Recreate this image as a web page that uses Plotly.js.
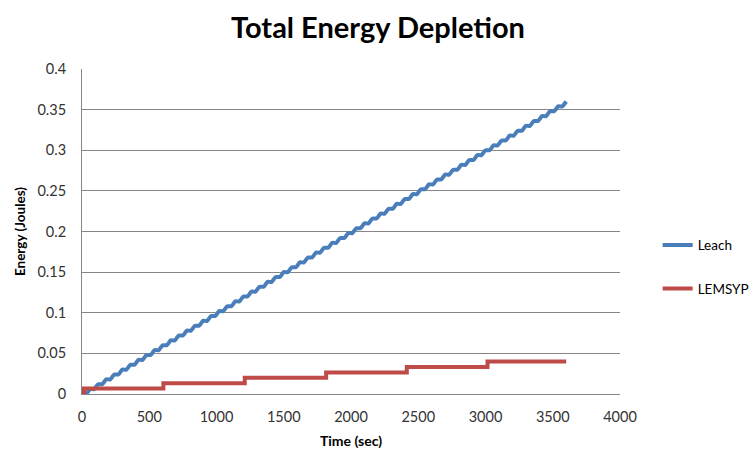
<!DOCTYPE html>
<html>
<head>
<meta charset="utf-8">
<script src="https://cdn.plot.ly/plotly-3.0.1.min.js"></script>
<style>
  html, body { margin: 0; padding: 0; background: #ffffff; }
  #chart { width: 756px; height: 451px; }
</style>
</head>
<body>
<div id="chart"></div>
<script>
// Leach: cumulative energy at the end of each 60 s round
const leachTime = [0, 60, 120, 180, 240, 300, 360, 420, 480, 540, 600, 660, 720, 780, 840, 900,
  960, 1020, 1080, 1140, 1200, 1260, 1320, 1380, 1440, 1500, 1560, 1620, 1680, 1740, 1800,
  1860, 1920, 1980, 2040, 2100, 2160, 2220, 2280, 2340, 2400, 2460, 2520, 2580, 2640, 2700,
  2760, 2820, 2880, 2940, 3000, 3060, 3120, 3180, 3240, 3300, 3360, 3420, 3480, 3540, 3600];
const leachEnergy = [0, 0.006, 0.012, 0.018, 0.024, 0.030, 0.036, 0.042, 0.048, 0.054, 0.060,
  0.066, 0.072, 0.078, 0.084, 0.090, 0.096, 0.102, 0.108, 0.114, 0.120, 0.126, 0.132, 0.138,
  0.144, 0.150, 0.156, 0.162, 0.168, 0.174, 0.180, 0.186, 0.192, 0.198, 0.204, 0.210, 0.216,
  0.222, 0.228, 0.234, 0.240, 0.246, 0.252, 0.258, 0.264, 0.270, 0.276, 0.282, 0.288, 0.294,
  0.300, 0.306, 0.312, 0.318, 0.324, 0.330, 0.336, 0.342, 0.348, 0.354, 0.360];

// LEMSYP: cumulative energy, rising once per 600 s round
const lemsypTime = [0, 15, 605, 1210, 1815, 2415, 3015, 3600];
const lemsypEnergy = [0, 0.0067, 0.0133, 0.0200, 0.0265, 0.0333, 0.0400, 0.0400];

const xTicks = [0, 500, 1000, 1500, 2000, 2500, 3000, 3500, 4000];
const yTicks = [0, 0.05, 0.1, 0.15, 0.2, 0.25, 0.3, 0.35, 0.4];
const yTickText = ['0', '0.05', '0.1', '0.15', '0.2', '0.25', '0.3', '0.35', '0.4'];

// Each round: hold the level, then climb to the next one (gives the ridged look)
function ridged(t, e, hold) {
  const xs = [], ys = [];
  for (let i = 0; i < t.length; i++) {
    xs.push(t[i]); ys.push(e[i]);
    if (i < t.length - 1) {
      xs.push(t[i] + hold * (t[i + 1] - t[i]));
      ys.push(e[i]);
    }
  }
  return { xs, ys };
}
const leachPath = ridged(leachTime, leachEnergy, 0.5);

const FONT = 'Lato, "Open Sans", sans-serif';

const traces = [
  {
    x: leachPath.xs, y: leachPath.ys, type: 'scatter', mode: 'lines', name: 'Leach',
    legendgroup: 'a',
    line: { color: '#4a7ebb', width: 4, shape: 'spline', smoothing: 0.6 }
  },
  {
    x: lemsypTime, y: lemsypEnergy, type: 'scatter', mode: 'lines', name: 'LEMSYP',
    legendgroup: 'b',
    line: { color: '#be4b48', width: 4, shape: 'hv' }
  }
];

const layout = {
  width: 756, height: 451,
  margin: { l: 82, r: 136, t: 69, b: 57, autoexpand: false },
  paper_bgcolor: '#ffffff', plot_bgcolor: '#ffffff',
  font: { family: FONT, color: '#333333', size: 14 },
  title: {
    text: '<b>Total Energy Depletion</b>',
    x: 0.5, xref: 'container', xanchor: 'center',
    y: 0.938, yref: 'container', yanchor: 'middle',
    font: { family: FONT, size: 29, color: '#000000' }
  },
  xaxis: {
    range: [0, 4000], tickvals: xTicks, ticktext: xTicks.map(String),
    showgrid: false, zeroline: false,
    showline: true, linecolor: '#868686', linewidth: 1,
    ticks: '', ticklen: 0, ticklabelstandoff: 10,
    tickfont: { family: FONT, size: 14.5, color: '#333333' },
    title: { text: '<b>Time (sec)</b>', font: { family: FONT, size: 14, color: '#000000' } }
  },
  yaxis: {
    range: [0, 0.4], tickvals: yTicks, ticktext: yTickText,
    showgrid: true, gridcolor: '#868686', gridwidth: 1,
    zeroline: false, automargin: true,
    showline: true, linecolor: '#868686', linewidth: 1,
    ticks: '', ticklen: 0, ticklabelstandoff: 12,
    tickfont: { family: FONT, size: 14.5, color: '#333333' },
    title: { text: '<b>Energy (Joules)</b>', standoff: 8,
             font: { family: FONT, size: 13.5, color: '#000000' } }
  },
  showlegend: true,
  legend: {
    x: 1.07, xanchor: 'left', y: 0.39, yanchor: 'middle',
    traceorder: 'grouped', tracegroupgap: 23,
    font: { family: FONT, size: 13.5, color: '#000000' },
    bgcolor: 'rgba(0,0,0,0)'
  }
};

Plotly.newPlot('chart', traces, layout, { displayModeBar: false, staticPlot: true });
</script>
</body>
</html>
